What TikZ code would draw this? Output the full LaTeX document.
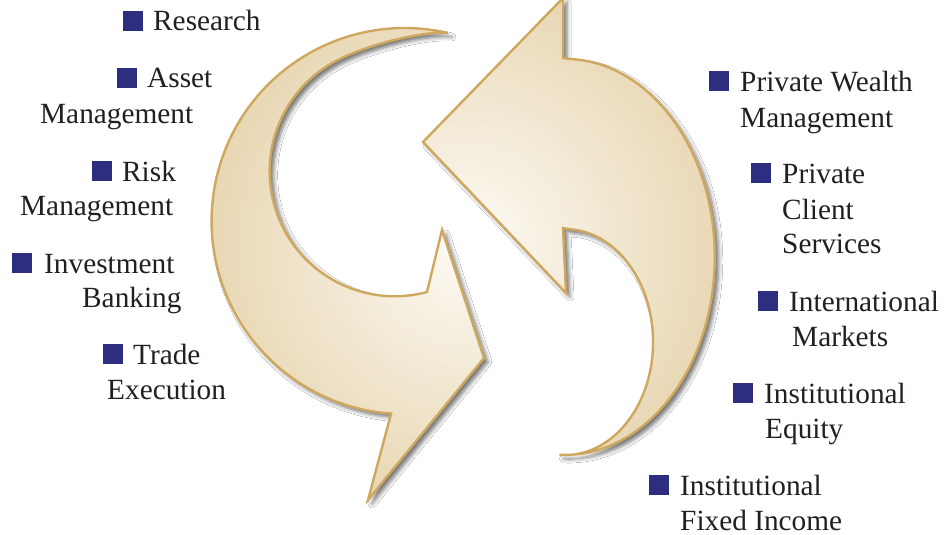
\documentclass[tikz,border=0pt]{standalone}
\usepackage{fontspec}
\setmainfont{Liberation Serif}
\usetikzlibrary{shadows.blur}
\definecolor{txt}{HTML}{231F20}
\definecolor{navy}{HTML}{2E2E80}
\definecolor{arrowhi}{HTML}{FDFBF6}
\definecolor{arrowlo}{HTML}{E6D3AC}
\definecolor{arrowedge}{HTML}{CFA85F}
\begin{document}
\begin{tikzpicture}[x=1pt,y=-1pt,
  arrowshape/.style={draw=arrowedge, line width=2.4pt, line join=miter,
    blur shadow={shadow xshift=4pt, shadow yshift=-4pt, shadow blur radius=4pt, shadow opacity=55},
    path picture={\shade[inner color=arrowhi, outer color=arrowlo] (468,245) circle (290);}},
  lbl/.style={anchor=base west, inner sep=0pt, font=\fontsize{29.3pt}{35pt}\selectfont, text=txt},
  sq/.style={anchor=south west, minimum size=20pt, inner sep=0pt, outer sep=0pt, fill=navy}]
\useasboundingbox (0,0) rectangle (950,535);
\fill[white] (0,0) rectangle (950,535);

% left arrow (pointing down-right)
\path[arrowshape] (448,33) arc[start angle=-77, end angle=-266, radius=193]
  -- (368,500) -- (484,358) -- (442,230) -- (427,292)
  arc[start angle=75, end angle=245, radius=125]
  .. controls (369,45) and (420,31) .. (448,33) -- cycle;

% right arrow (pointing up-left)
\path[arrowshape] (563,-2) -- (563,58) -- (570,59)
  arc[start angle=-88, end angle=92, x radius=150, y radius=198]
  -- (562,455) arc[start angle=92, end angle=-87, x radius=88, y radius=113]
  -- (563,228) -- (566,293) -- (423,142) -- cycle;

% left labels
\node[sq] (sqres) at (123,31) {};
\node[lbl] (res) at (153,31) {Research};
\node[sq] (sqasset) at (117,88) {};
\node[lbl] (asset1) at (147,88) {Asset};
\node[lbl] (asset2) at (40,123) {Management};
\node[sq] (sqrisk) at (92,181) {};
\node[lbl] (risk1) at (122,181) {Risk};
\node[lbl] (risk2) at (20,215) {Management};
\node[sq] (sqinv) at (12,273) {};
\node[lbl] (inv1) at (44,273) {Investment};
\node[lbl] (inv2) at (82,307) {Banking};
\node[sq] (sqtrade) at (103,364) {};
\node[lbl] (trade1) at (133,364) {Trade};
\node[lbl] (trade2) at (107,399) {Execution};

% right labels
\node[sq] (sqpwm) at (709,91) {};
\node[lbl] (pwm1) at (740,91) {Private Wealth};
\node[lbl] (pwm2) at (740,127) {Management};
\node[sq] (sqpcs) at (751,183) {};
\node[lbl] (pcs1) at (782,183) {Private};
\node[lbl] (pcs2) at (782,219) {Client};
\node[lbl] (pcs3) at (782,253) {Services};
\node[sq] (sqint) at (758,311) {};
\node[lbl] (int1) at (789,311) {International};
\node[lbl] (int2) at (792,346) {Markets};
\node[sq] (sqeq) at (733,403) {};
\node[lbl] (eq1) at (764,403) {Institutional};
\node[lbl] (eq2) at (765,438) {Equity};
\node[sq] (sqfi) at (649,495) {};
\node[lbl] (fi1) at (680,495) {Institutional};
\node[lbl] (fi2) at (680,530) {Fixed Income};
\end{tikzpicture}
\end{document}
